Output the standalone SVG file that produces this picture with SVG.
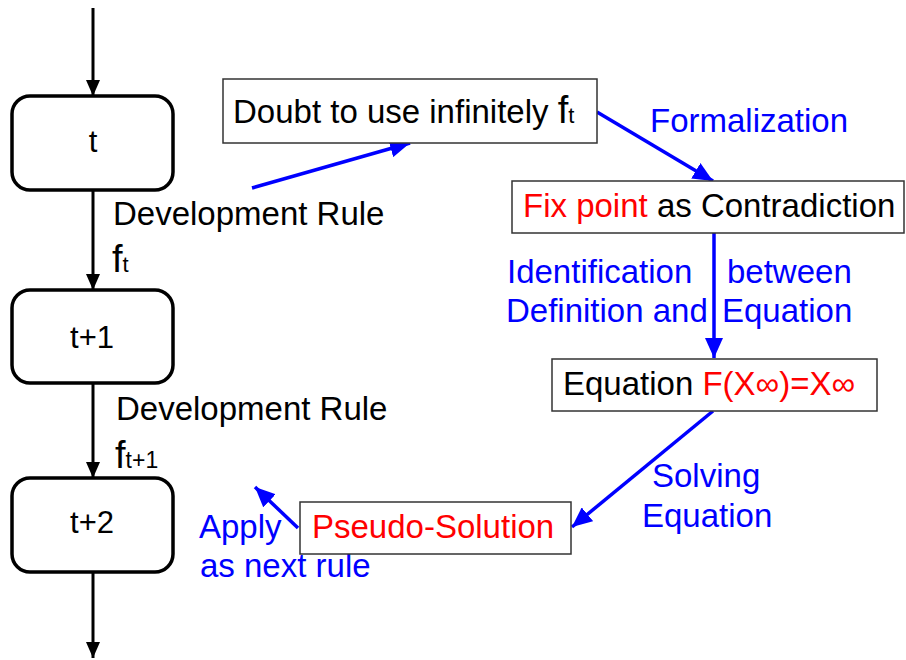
<svg xmlns="http://www.w3.org/2000/svg" width="906" height="660" viewBox="0 0 906 660">
<style>
text{font-family:"Liberation Sans",Arial,sans-serif;font-size:33px;fill:#000}
.blue{fill:#0000ff}
.red{fill:#ff0000}
.step{fill:#fff;stroke:#000;stroke-width:3.5}
.box{fill:#fff;stroke:#333;stroke-width:1.5}
.k{stroke:#000;stroke-width:3;fill:none}
.b{stroke:#0000ff;stroke-width:3.5;fill:none}
</style>
<defs>
<marker id="ak" viewBox="0 0 16 14" refX="16" refY="7" markerWidth="16" markerHeight="14" markerUnits="userSpaceOnUse" orient="auto"><path d="M0,0 L16,7 L0,14 z" fill="#000"/></marker>
<marker id="ab" viewBox="0 0 20 18" refX="20" refY="9" markerWidth="20" markerHeight="18" markerUnits="userSpaceOnUse" orient="auto"><path d="M0,0 L20,9 L0,18 z" fill="#0000ff"/></marker>
</defs>
<rect width="906" height="660" fill="#fff"/>
<g id="connectors">
<line class="k" x1="93" y1="8" x2="93" y2="96" marker-end="url(#ak)"/>
<line class="k" x1="93" y1="190" x2="93" y2="290" marker-end="url(#ak)"/>
<line class="k" x1="93" y1="383" x2="93" y2="478" marker-end="url(#ak)"/>
<line class="k" x1="93" y1="572" x2="93" y2="658" marker-end="url(#ak)"/>
<line class="b" x1="252" y1="188" x2="410" y2="143" marker-end="url(#ab)"/>
<line class="b" x1="597" y1="112" x2="713" y2="181" marker-end="url(#ab)"/>
<line class="b" x1="714" y1="233" x2="714" y2="358" marker-end="url(#ab)"/>
<line class="b" x1="713" y1="411" x2="572" y2="527" marker-end="url(#ab)"/>
<line class="b" x1="298" y1="528" x2="255" y2="487" marker-end="url(#ab)"/>
<text x="113" y="225">Development Rule</text>
<text x="112" y="272" style="font-size:38px">f<tspan style="font-size:22px">t</tspan></text>
<text x="116" y="420">Development Rule</text>
<text x="115" y="468" style="font-size:38px">f<tspan style="font-size:23px">t+1</tspan></text>
<text class="blue" x="650" y="132">Formalization</text>
<text class="blue" x="507" y="283">Identification</text>
<text class="blue" x="727" y="283">between</text>
<text class="blue" x="506" y="322">Definition and</text>
<text class="blue" x="722" y="322">Equation</text>
<text class="blue" x="652" y="487">Solving</text>
<text class="blue" x="642" y="527">Equation</text>
<text class="blue" x="199" y="538">Apply</text>
<text class="blue" x="200" y="577">as next rule</text>
</g>
<g id="node-t">
<rect class="step" x="12" y="96" width="161" height="94" rx="18"/>
<text x="93" y="152" text-anchor="middle" style="font-size:31px">t</text>
</g>
<g id="node-t1">
<rect class="step" x="12" y="290" width="161" height="93" rx="18"/>
<text x="92" y="348" text-anchor="middle" style="font-size:31px">t+1</text>
</g>
<g id="node-t2">
<rect class="step" x="12" y="478" width="161" height="94" rx="18"/>
<text x="92" y="533" text-anchor="middle" style="font-size:31px">t+2</text>
</g>
<g id="node-doubt">
<rect class="box" x="223" y="79" width="374" height="64"/>
<text x="233" y="123">Doubt to use infinitely <tspan style="font-size:38px">f</tspan><tspan style="font-size:22px">t</tspan></text>
</g>
<g id="node-fix">
<rect class="box" x="512" y="181" width="392" height="52"/>
<text x="523" y="217"><tspan class="red">Fix point</tspan> as Contradiction</text>
</g>
<g id="node-equation">
<rect class="box" x="552" y="359" width="325" height="52"/>
<text x="563" y="395">Equation <tspan class="red">F(X∞)=X∞</tspan></text>
</g>
<g id="node-pseudo">
<rect class="box" x="300" y="502" width="271" height="52"/>
<text class="red" x="312" y="538">Pseudo-Solution</text>
</g>
</svg>
